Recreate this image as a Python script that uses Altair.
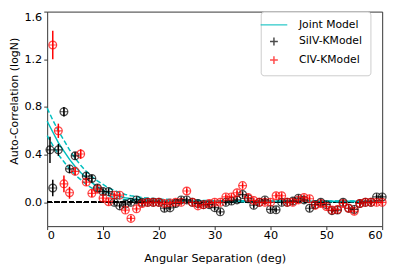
import altair as alt
import pandas as pd

# ---------------- data ----------------
series_names = ["Joint Model", "SiIV-KModel", "CIV-KModel"]
series_colors = ["#00bfbf", "#000000", "#ff0000"]

# SiIV (black)
si_x = [0.5, 1, 2, 3, 4, 5, 7, 8, 9, 10, 11, 12, 13, 14, 15, 16, 17, 18, 19, 20,
        21, 22, 23, 24, 25, 26, 27, 28, 29, 30, 31, 32, 33, 34, 35, 36, 37, 38, 39, 40,
        41, 42, 43, 44, 45, 46, 47, 48, 49, 50, 51, 52, 53, 54, 55, 56, 57, 58, 59, 60]
si_y = [0.44, 0.12, 0.44, 0.76, 0.28, 0.39, 0.22, 0.20, 0.12, 0.09, 0.09, 0.0, -0.03, -0.015, 0.0, 0.02, 0.0, 0.0, 0.0, 0.0,
        -0.05, -0.047, -0.01, 0.02, 0.02, 0.0, -0.01, -0.02, -0.02, -0.045, -0.08, 0.0, 0.01, 0.02, 0.065, 0.03, -0.025, 0.0, 0.02, -0.06,
        -0.063, 0.0, 0.0, 0.01, 0.035, 0.02, -0.05, -0.02, 0.0, -0.02, -0.07, -0.065, 0.0, -0.05, -0.06, -0.01, 0.0, 0.0, 0.045, 0.045]
si_err = [0.11, 0.07, 0.05, 0.04, 0.035, 0.03, 0.03, 0.03, 0.025, 0.025, 0.025, 0.02, 0.02, 0.02, 0.02, 0.02, 0.02, 0.02, 0.02, 0.02,
          0.02, 0.02, 0.02, 0.02, 0.02, 0.02, 0.02, 0.02, 0.02, 0.02, 0.02, 0.02, 0.02, 0.02, 0.02, 0.02, 0.02, 0.02, 0.02, 0.02,
          0.02, 0.02, 0.02, 0.02, 0.02, 0.02, 0.02, 0.02, 0.02, 0.02, 0.02, 0.02, 0.02, 0.02, 0.02, 0.02, 0.02, 0.02, 0.02, 0.02]

# CIV (red)
c_x = [1, 2, 3, 4, 5, 6, 7, 8, 9, 10, 11, 12, 13, 14, 15, 16, 17, 18, 19, 20,
       21, 22, 23, 24, 25, 26, 27, 28, 29, 30, 31, 32, 33, 34, 35, 36, 37, 38, 39, 40,
       41, 42, 43, 44, 45, 46, 47, 48, 49, 50, 51, 52, 53, 54, 55, 56, 57, 58, 59, 60]
c_y = [1.32, 0.60, 0.155, 0.08, 0.26, 0.405, 0.17, 0.075, 0.11, 0.035, 0.005, 0.06, 0.06, -0.065, -0.135, -0.055, -0.01, 0.0, 0.0, 0.0,
       -0.01, -0.005, 0.0, 0.0, 0.095, 0.0, -0.03, -0.02, -0.01, 0.0, 0.0, 0.045, 0.045, 0.08, 0.14, 0.04, 0.015, 0.0, 0.0, 0.0,
       0.055, 0.055, 0.0, 0.0, 0.02, 0.04, 0.03, -0.025, -0.01, -0.035, -0.065, -0.06, -0.01, -0.05, -0.075, -0.01, 0.0, 0.0, 0.0, 0.0]
c_err = [0.12, 0.06, 0.07, 0.05, 0.03, 0.04, 0.03, 0.03, 0.025, 0.025, 0.025, 0.02, 0.02, 0.02, 0.02, 0.02, 0.02, 0.02, 0.02, 0.02,
         0.02, 0.02, 0.02, 0.02, 0.02, 0.02, 0.02, 0.02, 0.02, 0.02, 0.02, 0.02, 0.02, 0.02, 0.02, 0.02, 0.02, 0.02, 0.02, 0.02,
         0.02, 0.02, 0.02, 0.02, 0.02, 0.02, 0.02, 0.02, 0.02, 0.02, 0.02, 0.02, 0.02, 0.02, 0.02, 0.02, 0.02, 0.02, 0.02, 0.02]

# Joint model (solid) and its upper / lower bounds (dashed)
m_x = [0, 1, 2, 3, 4, 5, 6, 7, 8, 9, 10, 11, 12, 13, 14, 15, 17, 20, 25, 30, 40, 50, 60]
m_mid = [0.68, 0.59, 0.50, 0.43, 0.36, 0.30, 0.25, 0.205, 0.165, 0.13, 0.10, 0.08, 0.062, 0.048, 0.038, 0.03, 0.021, 0.015, 0.011, 0.009, 0.008, 0.008, 0.008]
m_hi = [0.79, 0.69, 0.60, 0.52, 0.44, 0.37, 0.31, 0.26, 0.215, 0.18, 0.15, 0.12, 0.10, 0.08, 0.066, 0.055, 0.04, 0.028, 0.018, 0.014, 0.012, 0.011, 0.011]
m_lo = [0.56, 0.48, 0.40, 0.34, 0.28, 0.23, 0.19, 0.15, 0.12, 0.095, 0.07, 0.055, 0.04, 0.03, 0.022, 0.016, 0.01, 0.006, 0.004, 0.004, 0.004, 0.004, 0.004]

x_ticks = [0, 10, 20, 30, 40, 50, 60]
y_ticks = [0.0, 0.4, 0.8, 1.2, 1.6]

# ---------------- tables ----------------
si_df = pd.DataFrame({"x": si_x, "y": si_y, "err": si_err, "series": "SiIV-KModel"})
c_df = pd.DataFrame({"x": c_x, "y": c_y, "err": c_err, "series": "CIV-KModel"})
pts = pd.concat([si_df, c_df], ignore_index=True)
pts["lo"] = pts["y"] - pts["err"]
pts["hi"] = pts["y"] + pts["err"]

model = pd.DataFrame({"x": m_x, "mid": m_mid, "hi": m_hi, "lo": m_lo})

FONT = "DejaVu Sans"
W, H = 342, 219
xs = alt.Scale(domain=[0, 60], nice=False, zero=False)
ys = alt.Scale(domain=[-0.2, 1.6], nice=False, zero=False)
cs = alt.Scale(domain=series_names, range=series_colors)

LINE_PATH = "M-3.4,0L3.4,0"
PLUS_PATH = "M-1,0L1,0M0,-1L0,1"
shp = alt.Scale(domain=series_names, range=[LINE_PATH, PLUS_PATH, PLUS_PATH])

X = alt.X("x:Q", scale=xs, title="Angular Separation (deg)",
          axis=alt.Axis(values=x_ticks, format="d"))
Y_AXIS = alt.Axis(values=y_ticks, format=".1f", title="Auto-Correlation (logN)",
                  labelFlush=True, titleY=91, titleFontSize=11.2)

zero = alt.Chart(model).mark_rule(color="black", strokeWidth=1.2, strokeDash=[5, 2.5]).encode(
    y=alt.datum(0, scale=ys), x=alt.value(0), x2=alt.value(W)
)

base_m = alt.Chart(model)
hi_line = base_m.mark_line(color="#00bfbf", strokeWidth=1.5, strokeDash=[5, 2.5]).encode(
    x=X, y=alt.Y("hi:Q", scale=ys, axis=Y_AXIS))
lo_line = base_m.mark_line(color="#00bfbf", strokeWidth=1.5, strokeDash=[5, 2.5]).encode(
    x=X, y=alt.Y("lo:Q", scale=ys))
mid_line = base_m.mark_line(color="#00bfbf", strokeWidth=1.5).encode(
    x=X, y=alt.Y("mid:Q", scale=ys))

layers = [zero, hi_line, lo_line, mid_line]
for df, col in [(si_df, "#000000"), (c_df, "#ff0000")]:
    sub = pts[pts["series"] == df["series"].iloc[0]]
    b = alt.Chart(sub)
    err = b.mark_rule(strokeWidth=1.5, color=col).encode(
        x=X, y=alt.Y("lo:Q", scale=ys), y2="hi:Q")
    circ = b.mark_point(shape="circle", filled=False, size=64, strokeWidth=1.2, color=col).encode(
        x=X, y=alt.Y("y:Q", scale=ys))
    layers += [err, circ]

plus = alt.Chart(pts).mark_point(filled=False, size=64, strokeWidth=1.2).encode(
    x=X, y=alt.Y("y:Q", scale=ys),
    color=alt.Color("series:N", scale=cs,
                    legend=alt.Legend(title=None, orient="none", legendX=218, legendY=0,
                                      padding=8, rowPadding=4, labelOffset=20,
                                      strokeColor="#cccccc", cornerRadius=3,
                                      fillColor="white", symbolStrokeWidth=1.5,
                                      symbolSize=64, labelFontSize=11, labelFont=FONT,
                                      labelColor="black")),
    shape=alt.Shape("series:N", scale=shp,
                    legend=alt.Legend(title=None, orient="none", legendX=218, legendY=0)),
)
layers.append(plus)

chart = alt.layer(*layers).properties(
    width=W, height=H,
    autosize=alt.AutoSizeParams(type="none"),
    padding={"left": 40, "top": 1, "right": 9, "bottom": 38},
).configure_view(
    stroke="#333333", strokeWidth=1
).configure_axis(
    grid=False, domain=False, tickColor="#333333", tickSize=3.5, tickWidth=1,
    labelFont=FONT, labelFontSize=11.5, labelColor="black", labelPadding=2,
    titleFont=FONT, titleFontSize=11.5, titleFontWeight="normal", titleColor="black",
).configure_axisX(
    titlePadding=12, labelPadding=0
).configure_axisY(
    titlePadding=5
)

chart.save("out.html", embed_options={"renderer": "svg", "actions": False})
